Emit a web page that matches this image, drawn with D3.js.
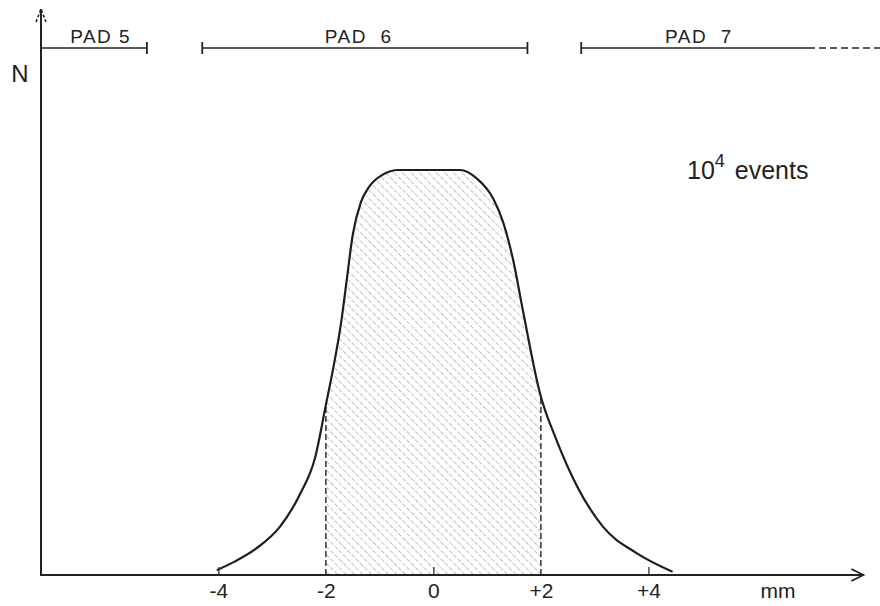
<!DOCTYPE html>
<html>
<head>
    <meta charset="utf-8" />
    <script src="https://cdn.jsdelivr.net/npm/d3@7/dist/d3.min.js"></script>
    <style>
        body { margin: 0; background: #fff; }
        svg text { font-family: "Liberation Sans", Arial, sans-serif; fill: #222; }
    </style>
</head>
<body>
    <script>
        // beam profile (x in mm, N relative to the plateau)
        var profileX = [-4.03, -3.7, -3.3, -2.85, -2.48, -2.2, -2.0, -1.85, -1.72, -1.62, -1.5, -1.35, -1.2, -0.95, -0.65,
                        0, 0.5, 0.8, 1.11, 1.3, 1.48, 1.67, 1.98, 2.3, 2.67, 3.15, 3.78, 4.45];
        var profileN = [0.012, 0.033, 0.065, 0.12, 0.2, 0.29, 0.42, 0.52, 0.62, 0.72, 0.84, 0.92, 0.958, 0.988, 1.0,
                        1.0, 1.0, 0.98, 0.93, 0.87, 0.78, 0.65, 0.45, 0.33, 0.22, 0.12, 0.054, 0.008];
        var tickValues = [-4, -2, 0, 2, 4];
        var tickLabels = ["-4", "-2", "0", "+2", "+4"];
        var shadeRange = [-2, 2];
        var padNames = ["PAD 5", "PAD  6", "PAD  7"];
        var padFrom = [-7.3, -4.3, 2.75];
        var padTo = [-5.33, 1.75, 7.1];
        var padLabelAt = [-6.19, -1.39, 4.94];

        var svgWidth = 880, svgHeight = 606;
        var x = d3.scaleLinear().domain([-7.3, 8]).range([41, 863.4]);
        var y = d3.scaleLinear().domain([0, 1]).range([575, 170]);

        var svg = d3.select("body").append("svg")
            .attr("width", svgWidth)
            .attr("height", svgHeight);

        var defs = svg.append("defs");
        var pat = defs.append("pattern")
            .attr("id", "hatch")
            .attr("patternUnits", "userSpaceOnUse")
            .attr("width", 6)
            .attr("height", 6)
            .attr("patternTransform", "rotate(-45)");
        pat.append("line")
            .attr("x1", 0).attr("y1", 0).attr("x2", 0).attr("y2", 6)
            .attr("stroke", "#7e7e7e")
            .attr("stroke-width", 1.2)
            .attr("stroke-dasharray", "3,1.5");

        defs.append("clipPath").attr("id", "shadeClip")
            .append("rect")
            .attr("x", x(shadeRange[0]))
            .attr("y", 0)
            .attr("width", x(shadeRange[1]) - x(shadeRange[0]))
            .attr("height", y(0));

        var points = profileX.map(function (d, i) { return [d, profileN[i]]; });

        // shaded region between -2 and +2
        var area = d3.area()
            .x(function (d) { return x(d[0]); })
            .y0(y(0))
            .y1(function (d) { return y(d[1]); })
            .curve(d3.curveMonotoneX);
        svg.append("path")
            .datum(points)
            .attr("d", area)
            .attr("fill", "url(#hatch)")
            .attr("opacity", 0.8)
            .attr("clip-path", "url(#shadeClip)");

        // dashed edges of the shaded band
        var edgeY = d3.scaleLinear().domain(profileX).range(profileN);
        svg.selectAll(".edge")
            .data(shadeRange)
            .enter().append("line")
            .attr("class", "edge")
            .attr("x1", function (d) { return x(d); })
            .attr("x2", function (d) { return x(d); })
            .attr("y1", y(0))
            .attr("y2", function (d) { return y(edgeY(d)); })
            .attr("stroke", "#333")
            .attr("stroke-width", 1.5)
            .attr("stroke-dasharray", "6,3");

        // profile curve
        var line = d3.line()
            .x(function (d) { return x(d[0]); })
            .y(function (d) { return y(d[1]); })
            .curve(d3.curveMonotoneX);
        svg.append("path")
            .datum(points)
            .attr("d", line)
            .attr("fill", "none")
            .attr("stroke", "#1e1e1e")
            .attr("stroke-width", 2.2);

        // x axis
        var xAxis = svg.append("g")
            .attr("class", "xAxis")
            .attr("transform", "translate(0," + y(0) + ")")
            .call(d3.axisBottom(x)
                .tickValues(tickValues)
                .tickSizeInner(-8)
                .tickSizeOuter(0)
                .tickPadding(8)
                .tickFormat(function (d, i) { return tickLabels[i]; }));
        xAxis.select(".domain").remove();
        xAxis.selectAll(".tick line")
            .attr("stroke", "#333")
            .attr("stroke-width", 1.3)
            .attr("display", function (d) { return shadeRange.indexOf(d) >= 0 ? "none" : null; });
        xAxis.selectAll(".tick text")
            .attr("font-size", 21)
            .attr("font-family", "Liberation Sans, Arial, sans-serif")
            .attr("fill", "#222");

        var xEnd = x.range()[1];
        svg.append("line")
            .attr("x1", x.range()[0]).attr("x2", xEnd)
            .attr("y1", y(0)).attr("y2", y(0))
            .attr("stroke", "#222").attr("stroke-width", 2);
        svg.append("path")
            .attr("d", "M" + (xEnd - 12) + "," + (y(0) - 6) + "L" + xEnd + "," + y(0) + "L" + (xEnd - 12) + "," + (y(0) + 6))
            .attr("fill", "none").attr("stroke", "#222").attr("stroke-width", 1.8);
        svg.append("text")
            .attr("x", 778).attr("y", 598)
            .attr("text-anchor", "middle")
            .attr("font-size", 21)
            .text("mm");

        // y axis
        var yTop = 9;
        svg.append("line")
            .attr("x1", x.range()[0]).attr("x2", x.range()[0])
            .attr("y1", y(0) + 1).attr("y2", yTop)
            .attr("stroke", "#222").attr("stroke-width", 2);
        svg.append("path")
            .attr("d", "M" + (x.range()[0] - 5) + "," + (yTop + 13) + "L" + x.range()[0] + "," + yTop + "L" + (x.range()[0] + 5) + "," + (yTop + 13))
            .attr("fill", "none").attr("stroke", "#222").attr("stroke-width", 1.6)
            .attr("stroke-dasharray", "3,2");
        svg.append("text")
            .attr("x", 20).attr("y", 82)
            .attr("text-anchor", "middle")
            .attr("font-size", 24)
            .text("N");

        // pad ranges along the top
        var padY = 48;
        var pads = svg.selectAll(".pad")
            .data(padNames)
            .enter().append("g")
            .attr("class", "pad");
        pads.append("line")
            .attr("x1", function (d, i) { return x(padFrom[i]); })
            .attr("x2", function (d, i) { return x(padTo[i]); })
            .attr("y1", padY).attr("y2", padY)
            .attr("stroke", "#222").attr("stroke-width", 1.6);
        pads.filter(function (d, i) { return i > 0; }).append("line")
            .attr("x1", function (d) { return x(padFrom[padNames.indexOf(d)]); })
            .attr("x2", function (d) { return x(padFrom[padNames.indexOf(d)]); })
            .attr("y1", padY - 6).attr("y2", padY + 6)
            .attr("stroke", "#222").attr("stroke-width", 1.8);
        pads.filter(function (d, i) { return i < padNames.length - 1; }).append("line")
            .attr("x1", function (d) { return x(padTo[padNames.indexOf(d)]); })
            .attr("x2", function (d) { return x(padTo[padNames.indexOf(d)]); })
            .attr("y1", padY - 6).attr("y2", padY + 6)
            .attr("stroke", "#222").attr("stroke-width", 1.8);
        pads.append("text")
            .attr("x", function (d, i) { return x(padLabelAt[i]); })
            .attr("y", padY - 5)
            .attr("text-anchor", "middle")
            .attr("font-size", 19)
            .attr("letter-spacing", 1.5)
            .style("white-space", "pre")
            .text(function (d) { return d; });
        // PAD 7 continues off the figure
        svg.append("line")
            .attr("x1", x(padTo[2]) + 4).attr("x2", svgWidth)
            .attr("y1", padY).attr("y2", padY)
            .attr("stroke", "#222").attr("stroke-width", 1.6)
            .attr("stroke-dasharray", "7,4");

        // event count note
        var note = svg.append("text")
            .attr("x", 687).attr("y", 179)
            .attr("font-size", 25);
        note.append("tspan").text("10");
        note.append("tspan").attr("dy", -12).attr("font-size", 18).text("4");
        note.append("tspan").attr("dy", 12).attr("dx", 3).text(" events").style("white-space", "pre");
    </script>
</body>
</html>
